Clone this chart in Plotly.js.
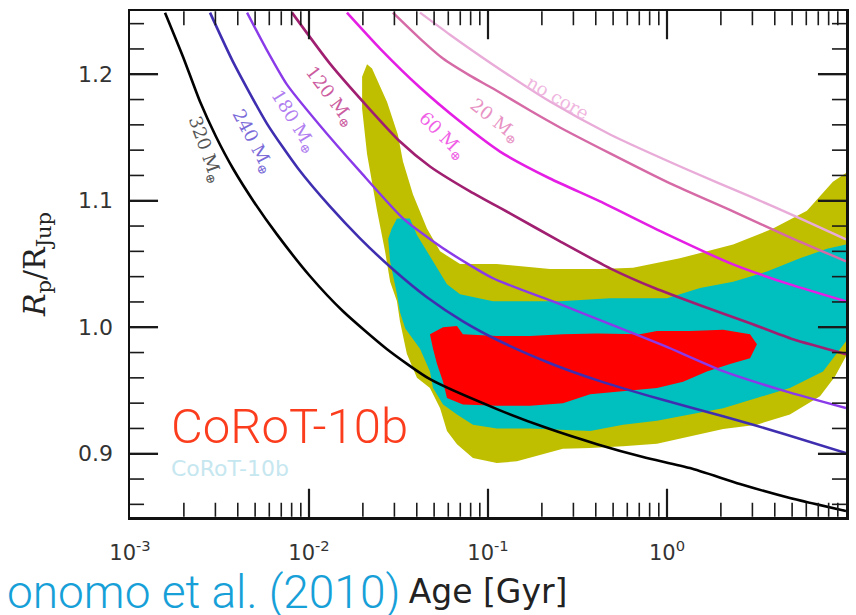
<!DOCTYPE html>
<html><head><meta charset="utf-8">
<script src="https://cdn.plot.ly/plotly-3.0.1.min.js"></script>
<style>html,body{margin:0;padding:0;background:#fff}</style>
</head><body>
<div id="chart" style="width:856px;height:615px"></div>
<script>
// ---- Data (age in Gyr, radius in R_Jup) ----
const age320 = [0.001569, 0.001977, 0.00246, 0.00302, 0.00376, 0.00499, 0.00662, 0.01014, 0.01549, 0.02729, 0.04742, 0.1122, 0.2136, 0.4064, 0.7345, 1.343, 2.557, 4.863, 10];
const r320   = [1.2487, 1.2139, 1.1784, 1.1508, 1.1255, 1.0979, 1.0734, 1.0403, 1.0126, 0.9826, 0.9589, 0.9353, 0.9203, 0.9076, 0.8974, 0.8887, 0.8761, 0.8650, 0.8547];
const age240 = [0.002799, 0.003758, 0.005821, 0.00869, 0.01309, 0.01927, 0.02943, 0.0456, 0.07244, 0.1167, 0.2219, 0.4225, 0.9141, 2.056, 4.562, 10];
const r240   = [1.2487, 1.2100, 1.1610, 1.1255, 1.0955, 1.0703, 1.0458, 1.0237, 1.0047, 0.9889, 0.9716, 0.9574, 0.9432, 0.9297, 0.9155, 0.9005];
const age180 = [0.004508, 0.005679, 0.007535, 0.01151, 0.01927, 0.0335, 0.05607, 0.1067, 0.2525, 0.4809, 0.9752, 2.056, 4.562, 10];
const r180   = [1.2487, 1.2218, 1.1918, 1.1595, 1.1232, 1.0861, 1.0624, 1.0387, 1.0182, 1.0024, 0.9850, 0.9653, 0.9495, 0.9361];
const age120 = [0.008035, 0.01309, 0.02193, 0.03224, 0.04742, 0.07932, 0.1327, 0.2525, 0.4809, 0.8573, 1.528, 2.911, 5.058, 10];
const r120   = [1.2487, 1.2084, 1.1721, 1.1468, 1.1271, 1.1074, 1.0900, 1.0679, 1.0466, 1.0308, 1.0174, 1.0032, 0.9905, 0.9787];
const age60  = [0.01629, 0.02494, 0.04169, 0.06982, 0.1167, 0.2219, 0.4225, 0.9752, 2.339, 4.863, 10];
const r60    = [1.2487, 1.2203, 1.1895, 1.1626, 1.1389, 1.1176, 1.0995, 1.0742, 1.0497, 1.0339, 1.0205];
const age20  = [0.02943, 0.04169, 0.05607, 0.07932, 0.1067, 0.1718, 0.2525, 0.4809, 1.040, 2.339, 4.863, 10];
const r20    = [1.2487, 1.2282, 1.2124, 1.1989, 1.1887, 1.1713, 1.1579, 1.1374, 1.1137, 1.0916, 1.0711, 1.0521];
const ageNoCore = [0.04169, 0.06131, 0.1067, 0.2219, 0.4809, 1.294, 2.911, 5.534, 10];
const rNoCore   = [1.2487, 1.2313, 1.2076, 1.1784, 1.1524, 1.1247, 1.1034, 1.0861, 1.0695];

const curveNames = ['320 M<sub>⊕</sub>', '240 M<sub>⊕</sub>', '180 M<sub>⊕</sub>', '120 M<sub>⊕</sub>', '60 M<sub>⊕</sub>', '20 M<sub>⊕</sub>', 'no core'];

// Constraint regions (boundary polygons)
const olive2Age = [0.0211, 0.0225, 0.0273, 0.0314, 0.0335, 0.0381, 0.0456, 0.0540, 0.0698, 0.112, 0.222, 0.423, 0.646, 1.18, 2.34, 3.91, 6.05, 8.45, 10,
  10, 8.68, 7.16, 4.86, 3.18, 2.06, 1.34, 0.879, 0.568, 0.372, 0.262, 0.145, 0.112, 0.0824, 0.0671, 0.0590, 0.0540, 0.0474, 0.0401, 0.0352, 0.0322, 0.0310, 0.0284, 0.0266, 0.0240, 0.0211, 0.0198, 0.0198];
const olive2R = [1.208, 1.2045, 1.178, 1.152, 1.131, 1.105, 1.078, 1.060, 1.050, 1.050, 1.046, 1.046, 1.047, 1.0545, 1.0655, 1.078, 1.092, 1.115, 1.122,
  0.977, 0.961, 0.9455, 0.931, 0.923, 0.9195, 0.914, 0.908, 0.906, 0.9045, 0.904, 0.894, 0.8926, 0.8966, 0.9076, 0.918, 0.936, 0.952, 0.960, 0.979, 1.005, 1.0205, 1.036, 1.060, 1.092, 1.137, 1.173, 1.198];

const cyan1Age = [0.0310, 0.0366, 0.0401, 0.0493, 0.0590, 0.0698, 0.1067, 0.165, 0.252, 0.481, 1.0, 1.53, 2.34, 3.62, 5.53, 7.83, 10,
  10, 7.44, 4.86, 3.18, 2.06, 1.34, 0.879, 0.568, 0.372, 0.172, 0.112, 0.0824, 0.0671, 0.0561, 0.0493, 0.0474, 0.0417, 0.0345, 0.0322, 0.0310, 0.0284, 0.0277, 0.0290];
const cyan1R = [1.086, 1.086, 1.073, 1.052, 1.034, 1.026, 1.0205, 1.0205, 1.0205, 1.023, 1.023, 1.031, 1.036, 1.044, 1.0545, 1.062, 1.0655,
  0.989, 0.965, 0.952, 0.944, 0.936, 0.931, 0.926, 0.923, 0.918, 0.920, 0.920, 0.923, 0.931, 0.939, 0.952, 0.965, 0.983, 0.999, 1.012, 1.026, 1.052, 1.070, 1.078];

const red1Age = [0.0474, 0.0561, 0.0671, 0.0724, 0.112, 0.172, 0.262, 0.406, 0.706, 0.879, 1.34, 2.06, 2.91, 3.18, 2.91, 2.25, 1.67, 1.23, 0.879, 0.568, 0.372, 0.262, 0.172, 0.112, 0.0724, 0.0590, 0.0561, 0.0519, 0.0493];
const red1R = [0.9945, 1.000, 1.001, 0.9945, 0.993, 0.993, 0.9945, 0.995, 0.9945, 0.997, 0.997, 0.998, 0.9945, 0.9866, 0.9755, 0.971, 0.965, 0.957, 0.952, 0.9495, 0.947, 0.940, 0.938, 0.938, 0.939, 0.944, 0.957, 0.971, 0.983];

const xTickVals = [0.001, 0.01, 0.1, 1, 10];
const xTickText = ['10<sup>-3</sup>', '10<sup>-2</sup>', '10<sup>-1</sup>', '10<sup>0</sup>', '10<sup>1</sup>'];
const yTickVals = [0.9, 1.0, 1.1, 1.2];
const yTickText = ['0.9', '1.0', '1.1', '1.2'];
const yMinorVals = [0.86, 0.88, 0.92, 0.94, 0.96, 0.98, 1.02, 1.04, 1.06, 1.08, 1.12, 1.14, 1.16, 1.18, 1.22, 1.24];

// ---- Styling ----
const W = 856, H = 615, M = {l: 130, r: 10, t: 11, b: 98};
const PW = W - M.l - M.r, PH = H - M.t - M.b;   // plot area in px
const X_RANGE = [-3, 1], Y_RANGE = [0.85, 1.25];
const lineColors  = ['#000000', '#3f2fb0', '#8a3ae8', '#a01f70', '#e41ee4', '#d66aa6', '#e9acd9'];
const lineWidths  = [2.6, 2.6, 2.4, 2.6, 2.6, 2.4, 2.4];
const labelColors = ['#555555', '#7a6ad8', '#b07ef0', '#cc5ca0', '#f060e6', '#e892c4', '#efb6e0'];
const labelPos = [ // [age, R, angle]
  [0.00262, 1.140, 70], [0.00481, 1.147, 62], [0.00815, 1.163, 58], [0.0131, 1.182, 53],
  [0.0553, 1.151, 45], [0.109, 1.163, 38], [0.246, 1.182, 30]
];
const TICK_COLOR = '#1a1a1a';
const MAJOR_LEN = 28, MINOR_LEN = 14;

const curveAges = [age320, age240, age180, age120, age60, age20, ageNoCore];
const curveRs   = [r320, r240, r180, r120, r60, r20, rNoCore];

const traces = [
  {x: olive2Age, y: olive2R, type: 'scatter', mode: 'lines', fill: 'toself', fillcolor: '#bfbf00', line: {width: 0, color: '#bfbf00'}, hoverinfo: 'skip'},
  {x: cyan1Age, y: cyan1R, type: 'scatter', mode: 'lines', fill: 'toself', fillcolor: '#00bfbf', line: {width: 0, color: '#00bfbf'}, hoverinfo: 'skip'},
  {x: red1Age, y: red1R, type: 'scatter', mode: 'lines', fill: 'toself', fillcolor: '#ff0000', line: {width: 0, color: '#ff0000'}, hoverinfo: 'skip'}
];
curveAges.forEach((a, i) => {
  traces.push({x: a, y: curveRs[i], type: 'scatter', mode: 'lines', name: curveNames[i],
    line: {color: lineColors[i], width: lineWidths[i], shape: 'spline', smoothing: 0.6}});
});

const minorX = [];
for (let d = -3; d < 1; d++) for (let k = 2; k <= 9; k++) minorX.push(k * Math.pow(10, d));

// inside tick marks on all four sides, drawn as short segments through the axes' scales
function tickTrace(xs, ys, len, w) {
  const dy = len * (Y_RANGE[1] - Y_RANGE[0]) / PH;
  const dx = Math.pow(10, len * (X_RANGE[1] - X_RANGE[0]) / PW);
  const xMin = Math.pow(10, X_RANGE[0]) * 1.0005, xMax = Math.pow(10, X_RANGE[1]) / 1.0005;
  const yMin = Y_RANGE[0] + 0.0002, yMax = Y_RANGE[1] - 0.0002;
  const X = [], Y = [];
  xs.forEach(v => {
    X.push(v, v, null, v, v, null);
    Y.push(yMin, yMin + dy, null, yMax, yMax - dy, null);
  });
  ys.forEach(v => {
    X.push(xMin, xMin * dx, null, xMax, xMax / dx, null);
    Y.push(v, v, null, v, v, null);
  });
  return {x: X, y: Y, type: 'scatter', mode: 'lines', connectgaps: false, hoverinfo: 'skip',
    line: {color: TICK_COLOR, width: w, shape: 'linear'}};
}
traces.push(tickTrace(minorX, yMinorVals, MINOR_LEN, 1.6));
traces.push(tickTrace(xTickVals.slice(1, 4), yTickVals, MAJOR_LEN, 2.2));

const annotations = curveNames.map((t, i) => ({
  x: Math.log10(labelPos[i][0]), y: labelPos[i][1], xref: 'x', yref: 'y', text: t,
  textangle: labelPos[i][2], showarrow: false,
  font: {family: 'DejaVu Serif, Liberation Serif, serif', size: 18, color: labelColors[i]}
}));
annotations.push({x: 0.055, y: 0.178, xref: 'paper', yref: 'paper', xanchor: 'left', yanchor: 'middle',
  text: 'CoRoT-10b', showarrow: false, font: {family: 'Roboto, Liberation Sans, sans-serif', size: 49, color: '#fb3d1e', weight: 300}});
annotations.push({x: 0.055, y: 0.096, xref: 'paper', yref: 'paper', xanchor: 'left', yanchor: 'middle',
  text: 'CoRoT-10b', showarrow: false, font: {family: 'DejaVu Sans, sans-serif', size: 22, color: '#c6e7f0'}});
annotations.push({x: -0.175, y: -0.148, xref: 'paper', yref: 'paper', xanchor: 'left', yanchor: 'middle',
  text: 'onomo et al. (2010)', showarrow: false, font: {family: 'Roboto, Liberation Sans, sans-serif', size: 46, color: '#17a0d8', weight: 300}});

const axisCommon = {showline: true, linecolor: '#111', linewidth: 2.5, mirror: 'ticks', ticks: 'inside',
  ticklen: MAJOR_LEN, tickwidth: 2.2, tickcolor: TICK_COLOR, showgrid: false, zeroline: false,
  tickfont: {family: 'DejaVu Sans, sans-serif', size: 22, color: '#333'}};

const layout = {
  width: W, height: H, showlegend: false,
  paper_bgcolor: '#ffffff', plot_bgcolor: '#ffffff',
  margin: M,
  xaxis: Object.assign({}, axisCommon, {type: 'log', range: X_RANGE, tickmode: 'array', tickvals: xTickVals, ticktext: xTickText,
    ticklabelstandoff: 15, tickfont: {family: 'DejaVu Sans, sans-serif', size: 21, color: '#333'},
    title: {text: 'Age [Gyr]', font: {family: 'DejaVu Sans, sans-serif', size: 33, color: '#222'}, standoff: 16}}),
  yaxis: Object.assign({}, axisCommon, {range: Y_RANGE, tickmode: 'array', tickvals: yTickVals, ticktext: yTickText,
    ticklabelstandoff: 10,
    title: {text: '<i>R</i><sub>p</sub>/R<sub>Jup</sub>', font: {family: 'DejaVu Serif, Liberation Serif, serif', size: 30, color: '#222'}, standoff: 24}}),
  annotations: annotations
};

Plotly.newPlot('chart', traces, layout, {staticPlot: true, displayModeBar: false});
</script>
</body></html>
